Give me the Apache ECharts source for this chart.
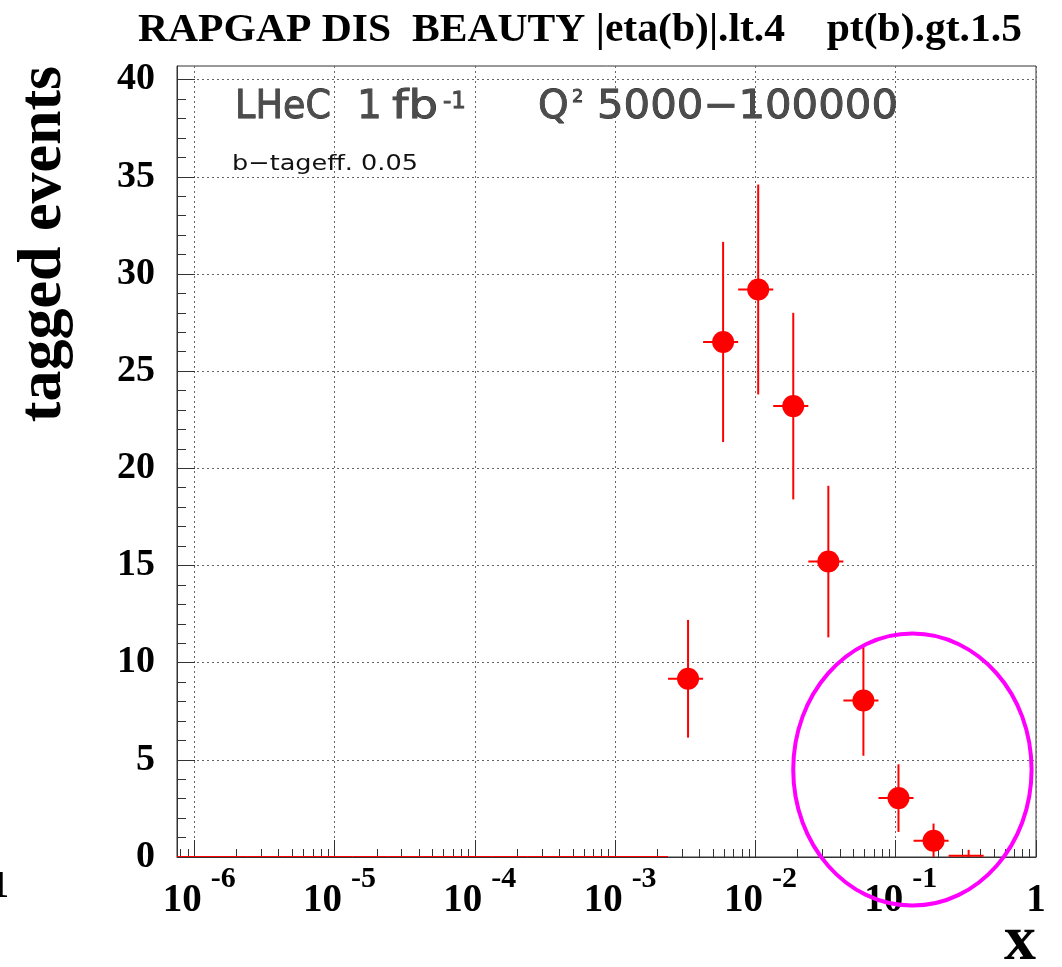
<!DOCTYPE html>
<html>
<head>
<meta charset="utf-8">
<script src="https://cdn.jsdelivr.net/npm/echarts@6/dist/echarts.min.js"></script>
<style>
  html, body { margin: 0; padding: 0; background: #ffffff; }
  #chart { width: 1062px; height: 967px; }
</style>
</head>
<body>
<div id="chart"></div>
<script>
// ---- Histogram definition: 23 equal bins in log10(x) ----
const histLog10Min = -6.123;
const binWidthLog10 = 0.25;

// tagged b events per bin and their statistical errors
const tagCounts = [0, 0, 0, 0, 0, 0, 0, 0, 0, 0, 0, 0, 0, 0,
                   9.17, 26.5, 29.2, 23.2, 15.2, 8.05, 3.03, 0.84, 0.07];
const tagErrors = [0, 0, 0, 0, 0, 0, 0, 0, 0, 0, 0, 0, 0, 0,
                   3.03, 5.15, 5.4, 4.8, 3.9, 2.84, 1.74, 0.88, 0.3];

// axis ticks
const xMajorTicks = [1e-6, 1e-5, 1e-4, 1e-3, 1e-2, 1e-1, 1];
const yMajorTicks = [0, 5, 10, 15, 20, 25, 30, 35, 40];
const yAxisMax = 40.7;

// highlighted region (data-space bounding box of the ellipse)
const highlightBox = { xLo: 0.0186, xHi: 0.93, yLo: -2.5, yHi: 11.5 };

// ---- derived helpers ----
const xAxisMin = Math.pow(10, histLog10Min);
const binRows = tagCounts.map((c, i) => {
  const lo = Math.pow(10, histLog10Min + i * binWidthLog10);
  const hi = Math.pow(10, histLog10Min + (i + 1) * binWidthLog10);
  return [lo, hi, (lo + hi) / 2, c, tagErrors[i]];
});
const markerPoints = binRows.filter(r => r[3] >= 0.5).map(r => [r[2], r[3]]);

// log-spaced minor ticks (2..9 x 10^n) inside the axis range
const xMinorTicks = [];
for (let d = -7; d <= -1; d++) {
  for (let m = 2; m <= 9; m++) {
    const v = m * Math.pow(10, d);
    if (v > xAxisMin && v < 1) xMinorTicks.push(v);
  }
}
const yMinorTicks = [];
for (let v = 1; v < 40; v++) if (v % 5 !== 0) yMinorTicks.push(v);

const serif = '"Liberation Serif", "Times New Roman", serif';
const sans = '"DejaVu Sans", "Liberation Sans", sans-serif';

const measureCtx = document.createElement('canvas').getContext('2d');
function measure(text, font) {
  measureCtx.font = font;
  return measureCtx.measureText(text).width;
}

// left-aligned text element, optionally stretched horizontally to a given width
function fittedText(id, text, font, x, y, width, style) {
  return {
    id: id, type: 'text', x: x, y: y, z: 10,
    scaleX: width ? width / measure(text, font) : 1,
    style: Object.assign({ text: text, font: font, align: 'left', verticalAlign: 'middle' }, style)
  };
}

const chart = echarts.init(document.getElementById('chart'), null, { renderer: 'canvas' });

const tickColor = '#333333';
const gridLine = { show: true, lineStyle: { color: '#666666', width: 1, type: [2, 3] } };

const titleText = 'RAPGAP DIS  BEAUTY |eta(b)|.lt.4    pt(b).gt.1.5';
const lhecStyle = { fill: '#4c4c4c', stroke: '#2a2a2a', lineWidth: 0.8 };
const bigSans = '39px ' + sans;

chart.setOption({
  animation: false,
  backgroundColor: '#ffffff',
  grid: {
    left: 177, top: 66, width: 859, height: 791,
    show: true, borderColor: '#333333', borderWidth: 1, backgroundColor: 'transparent'
  },
  xAxis: [
    {
      type: 'log', logBase: 10, min: xAxisMin, max: 1, position: 'bottom',
      axisLine: { show: true, lineStyle: { color: tickColor, width: 1 } },
      axisTick: { show: true, inside: true, length: 17, customValues: xMajorTicks,
                  lineStyle: { color: tickColor, width: 1 } },
      splitLine: gridLine,
      axisLabel: {
        show: true, margin: 23, customValues: xMajorTicks,
        formatter: function (v) {
          const e = Math.round(Math.log10(v));
          if (e === 0) return '{one|1}';
          return '{b|10}{e|' + e + '}';
        },
        rich: {
          b: { fontFamily: serif, fontWeight: 'bold', fontSize: 39, color: '#000',
               lineHeight: 40, verticalAlign: 'bottom', padding: [0, 0, 0, 10] },
          e: { fontFamily: serif, fontWeight: 'bold', fontSize: 30, color: '#000',
               lineHeight: 30, verticalAlign: 'bottom', padding: [0, 0, 26, 9] },
          one: { fontFamily: serif, fontWeight: 'bold', fontSize: 39, color: '#000',
                 lineHeight: 40, verticalAlign: 'bottom', padding: [16, 0, 0, 0] }
        }
      }
    },
    {
      type: 'log', logBase: 10, min: xAxisMin, max: 1, position: 'bottom', gridIndex: 0,
      axisLine: { show: false },
      axisTick: { show: true, inside: true, length: 8, customValues: xMinorTicks,
                  lineStyle: { color: tickColor, width: 1 } },
      axisLabel: { show: false },
      splitLine: { show: false }
    }
  ],
  yAxis: [
    {
      type: 'value', min: 0, max: yAxisMax, interval: 5,
      axisLine: { show: true, lineStyle: { color: tickColor, width: 1 } },
      axisTick: { show: true, inside: true, length: 18, customValues: yMajorTicks,
                  lineStyle: { color: tickColor, width: 1 } },
      splitLine: gridLine,
      axisLabel: {
        show: true, margin: 22, customValues: yMajorTicks,
        fontFamily: serif, fontWeight: 'bold', fontSize: 38, color: '#000'
      }
    },
    {
      type: 'value', min: 0, max: yAxisMax, interval: 5, position: 'left', gridIndex: 0,
      axisLine: { show: false },
      axisTick: { show: true, inside: true, length: 9, customValues: yMinorTicks,
                  lineStyle: { color: tickColor, width: 1 } },
      axisLabel: { show: false },
      splitLine: { show: false }
    }
  ],
  series: [
    {
      type: 'custom',
      name: 'errors',
      xAxisIndex: 0, yAxisIndex: 0,
      clip: true,
      data: binRows,
      encode: { x: [0, 1, 2], y: 3 },
      renderItem: function (params, api) {
        const lo = api.value(0), hi = api.value(1), c = api.value(2);
        const y = api.value(3), err = api.value(4);
        const pL = api.coord([lo, y]);
        const pR = api.coord([hi, y]);
        const children = [{
          type: 'line',
          shape: { x1: pL[0], y1: pL[1], x2: pR[0], y2: pR[1] },
          style: { stroke: '#ff0000', lineWidth: 2 }
        }];
        if (err > 0) {
          const pB = api.coord([c, Math.max(y - err, 0)]);
          const pT = api.coord([c, y + err]);
          children.push({
            type: 'line',
            shape: { x1: pB[0], y1: pB[1], x2: pT[0], y2: pT[1] },
            style: { stroke: '#ff0000', lineWidth: 2 }
          });
        }
        return { type: 'group', children: children };
      },
      z: 3
    },
    {
      type: 'scatter',
      name: 'tagged',
      xAxisIndex: 0, yAxisIndex: 0,
      data: markerPoints,
      symbol: 'circle',
      symbolSize: 22,
      itemStyle: { color: '#ff0000', opacity: 1 },
      emphasis: { disabled: true },
      z: 4
    }
  ],
  graphic: [
    fittedText('title', titleText, 'bold 40px ' + serif, 138, 31, 884, { fill: '#000' }),
    { id: 'ytitle', type: 'text', x: 44, y: 244, rotation: Math.PI / 2,
      style: { text: 'tagged events', font: 'bold 62px ' + serif, fill: '#000',
               align: 'center', verticalAlign: 'middle' } },
    { id: 'xtitle', type: 'text', x: 1036, y: 942,
      style: { text: 'x', font: 'bold 64px ' + serif, fill: '#000', align: 'right', verticalAlign: 'middle' } },
    { id: 'edge1', type: 'text', x: 9, y: 887,
      style: { text: '1', font: 'bold 38px ' + serif, fill: '#000', align: 'right', verticalAlign: 'middle' } },
    fittedText('lhec', 'LHeC', bigSans, 235, 107.5, 96, lhecStyle),
    fittedText('lumi', '1', bigSans, 357, 107.5, 0, lhecStyle),
    fittedText('lumiUnit', 'fb', bigSans, 392, 107.5, 46, lhecStyle),
    fittedText('lumiExp', '-1', '23px ' + sans, 443, 102, 0, lhecStyle),
    fittedText('q', 'Q', bigSans, 538, 107.5, 0, lhecStyle),
    fittedText('qExp', '2', '18px ' + sans, 572, 97, 0, lhecStyle),
    fittedText('qRange', '5000\u2212100000', bigSans, 597, 107.5, 301, lhecStyle),
    fittedText('btag', 'b\u2212tageff. 0.05', '22px ' + sans, 232, 164, 186, { fill: '#111' })
  ]
});

// highlight ellipse placed from its data-space box
const pA = chart.convertToPixel({ xAxisIndex: 0, yAxisIndex: 0 }, [highlightBox.xLo, highlightBox.yHi]);
const pB = chart.convertToPixel({ xAxisIndex: 0, yAxisIndex: 0 }, [highlightBox.xHi, highlightBox.yLo]);
chart.setOption({
  graphic: [{
    id: 'highlight', type: 'ellipse', z: 20,
    shape: { cx: (pA[0] + pB[0]) / 2, cy: (pA[1] + pB[1]) / 2,
             rx: Math.abs(pB[0] - pA[0]) / 2, ry: Math.abs(pB[1] - pA[1]) / 2 },
    style: { fill: 'none', stroke: '#ff00ff', lineWidth: 4 }
  }]
});
</script>
</body>
</html>
